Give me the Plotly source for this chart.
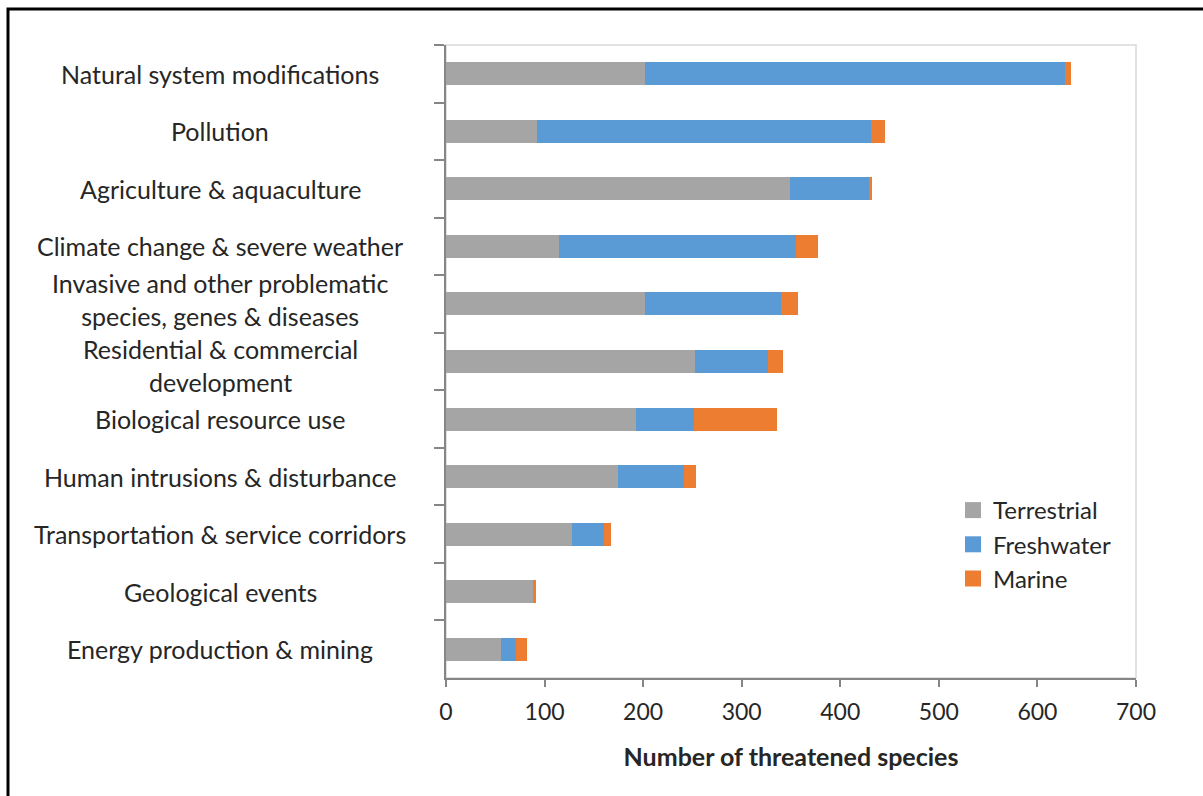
import plotly.graph_objects as go

# Threat categories, listed top to bottom
categories = [
    "Natural system modifications",
    "Pollution",
    "Agriculture & aquaculture",
    "Climate change & severe weather",
    "Invasive and other problematic<br>species, genes & diseases",
    "Residential & commercial<br>development",
    "Biological resource use",
    "Human intrusions & disturbance",
    "Transportation & service corridors",
    "Geological events",
    "Energy production & mining",
]

terrestrial = [202, 92, 349, 115, 202, 253, 193, 174, 128, 89, 56]
freshwater = [426, 339, 81, 240, 138, 74, 59, 67, 32, 0, 15]
marine = [6, 14, 2, 22, 17, 15, 84, 13, 7, 2, 11]

x_ticks = [0, 100, 200, 300, 400, 500, 600, 700]

W, H = 1203, 796
L, R, T, B = 446, 67, 45, 118
PW, PH = W - L - R, H - T - B

FONT = "Lato, 'Open Sans', sans-serif"
TXT = "#262626"

series = [
    ("Terrestrial", terrestrial, "#A5A5A5"),
    ("Freshwater", freshwater, "#5B9BD5"),
    ("Marine", marine, "#ED7D31"),
]

fig = go.Figure()
for name, vals, col in series:
    fig.add_trace(go.Bar(
        y=categories, x=vals, name=name, orientation="h", showlegend=False,
        marker=dict(color=col, line=dict(width=0)),
    ))
# legend keys drawn as square markers
for name, vals, col in series:
    fig.add_trace(go.Scatter(
        x=[None], y=[None], name=name, mode="markers",
        marker=dict(symbol="square", size=16, color=col),
    ))


def px_x(p):
    return (p - L) / PW


def px_y(p):
    return (H - B - p) / PH


# category labels, centred in the left margin; the two-line labels are
# pushed slightly apart so they do not collide
annotations = []
for c in categories:
    shift = 0
    if c.startswith("Invasive"):
        shift = 4
    elif c.startswith("Residential"):
        shift = -4
    annotations.append(dict(
        x=px_x(220), y=c, xref="paper", yref="y", text=c, showarrow=False,
        xanchor="center", yanchor="middle", align="center", yshift=shift,
        font=dict(family=FONT, size=25, color=TXT),
    ))

shapes = [
    # light frame around the plotting area
    dict(type="rect", xref="paper", yref="paper", x0=0, x1=1, y0=0, y1=1,
         line=dict(color="#D9D9D9", width=1.5), layer="below"),
    # outer black border
    dict(type="rect", xref="paper", yref="paper",
         x0=px_x(8), x1=px_x(1260), y0=px_y(860), y1=px_y(9),
         line=dict(color="black", width=3)),
]

fig.update_layout(
    width=W, height=H,
    margin=dict(l=L, r=R, t=T, b=B),
    barmode="stack", bargap=0.6,
    plot_bgcolor="white", paper_bgcolor="white",
    font=dict(family=FONT, color=TXT),
    annotations=annotations, shapes=shapes,
    legend=dict(
        x=px_x(953), y=px_y(488), xanchor="left", yanchor="top",
        traceorder="normal",
        bgcolor="rgba(0,0,0,0)", font=dict(size=24, color=TXT),
        itemwidth=30, tracegroupgap=0,
    ),
    xaxis=dict(
        range=[0, 700], tickvals=x_ticks, ticktext=[str(v) for v in x_ticks],
        showgrid=False, zeroline=False, showline=True,
        linecolor="#868686", linewidth=1.5,
        ticks="outside", ticklen=7, tickcolor="#868686", tickwidth=1.5,
        tickfont=dict(size=23, color=TXT), ticklabelstandoff=6,
        title=dict(text="<b>Number of threatened species</b>",
                   font=dict(size=25, color=TXT), standoff=24),
    ),
    yaxis=dict(
        autorange="reversed", showticklabels=False, showgrid=False,
        showline=True, linecolor="#868686", linewidth=1.5,
        ticks="outside", ticklen=10, tickcolor="#868686", tickwidth=1.5,
        tickson="boundaries",
    ),
)

fig.write_html("out.html")
